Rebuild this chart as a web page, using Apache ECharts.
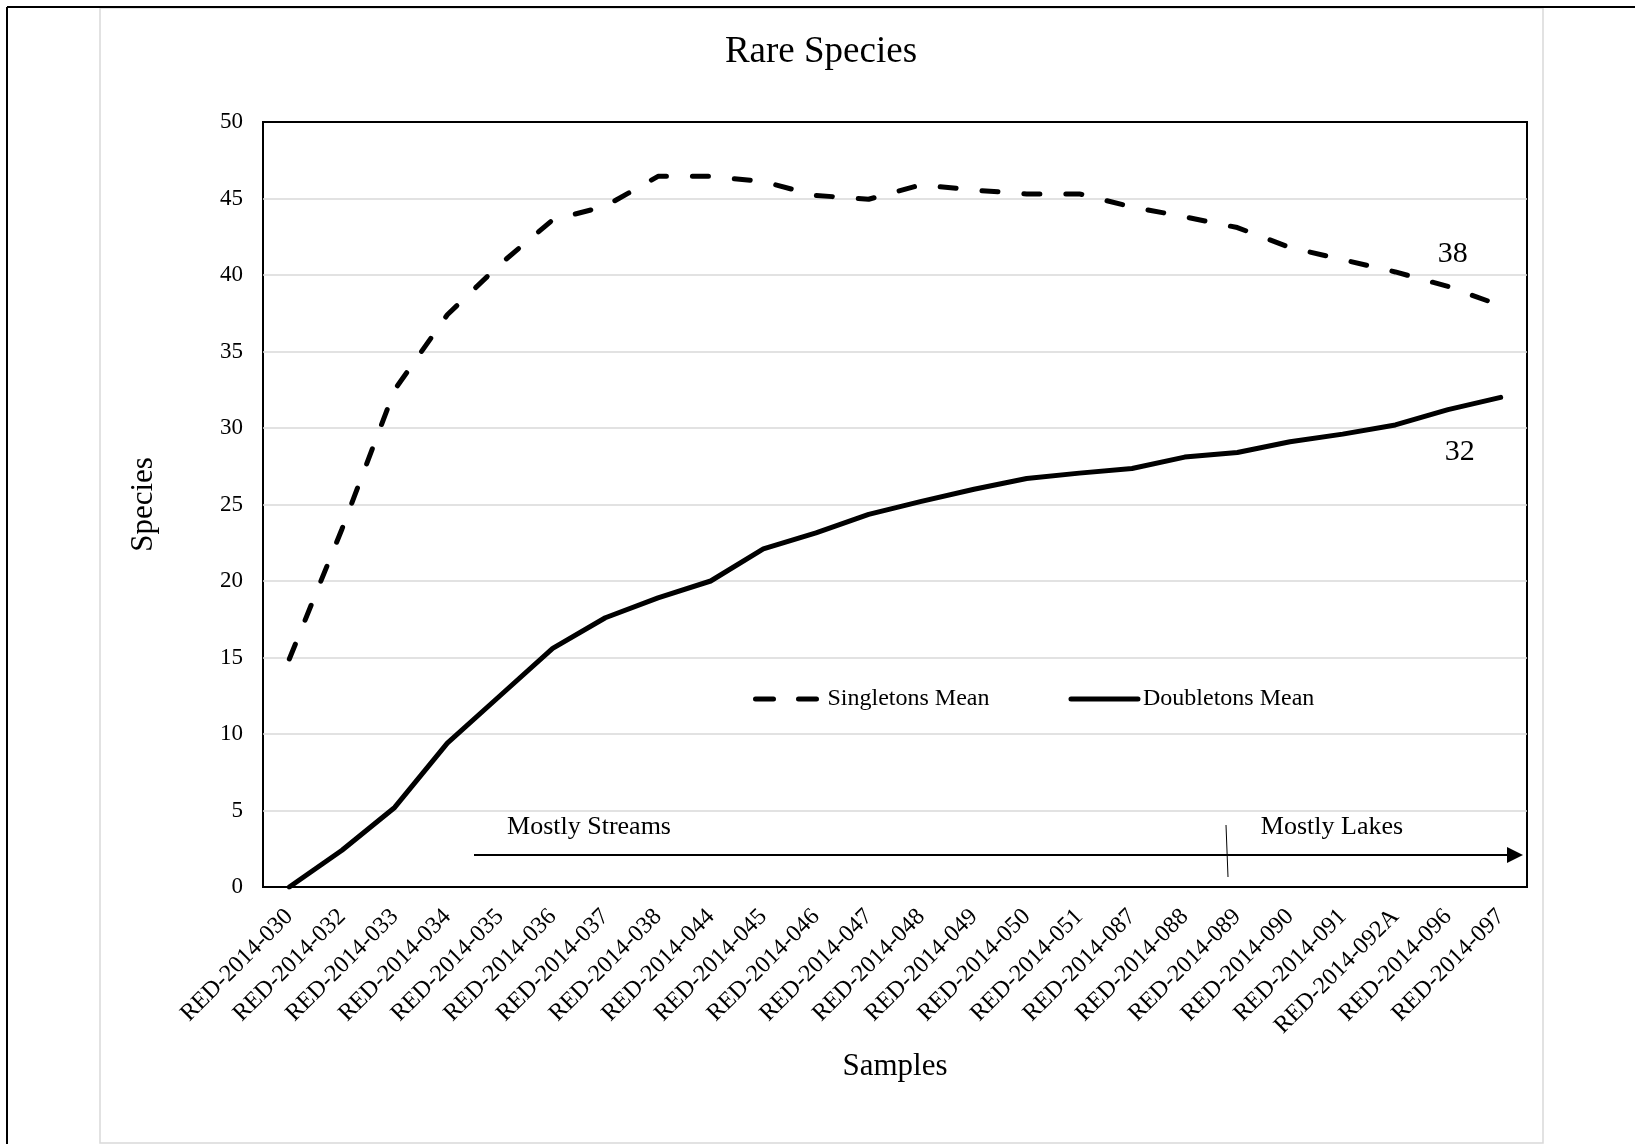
<!DOCTYPE html>
<html>
<head>
<meta charset="utf-8">
<script src="https://cdn.jsdelivr.net/npm/echarts@6/dist/echarts.min.js"></script>
<style>
html,body{margin:0;padding:0;background:#fff;}
#chart{width:1635px;height:1144px;}
</style>
</head>
<body>
<div id="chart"></div>
<script>
const categories = ['RED-2014-030','RED-2014-032','RED-2014-033','RED-2014-034','RED-2014-035','RED-2014-036','RED-2014-037','RED-2014-038','RED-2014-044','RED-2014-045','RED-2014-046','RED-2014-047','RED-2014-048','RED-2014-049','RED-2014-050','RED-2014-051','RED-2014-087','RED-2014-088','RED-2014-089','RED-2014-090','RED-2014-091','RED-2014-092A','RED-2014-096','RED-2014-097'];
const singletonsMean = [14.9, 23.4, 32.5, 37.4, 40.7, 43.6, 44.5, 46.45, 46.45, 46.1, 45.2, 44.95, 45.9, 45.55, 45.3, 45.3, 44.45, 43.8, 43.1, 41.8, 41.0, 40.2, 39.25, 38.0];
const doubletonsMean = [0, 2.4, 5.2, 9.4, 12.5, 15.6, 17.6, 18.9, 20.0, 22.1, 23.15, 24.35, 25.2, 26.0, 26.7, 27.05, 27.35, 28.1, 28.4, 29.1, 29.6, 30.2, 31.2, 32.0];
const yMin = 0, yMax = 50, yStep = 5;
const FONT = '"Liberation Serif", "Times New Roman", serif';

const chart = echarts.init(document.getElementById('chart'), null, {renderer:'canvas'});

function withEndLabel(arr, offset) {
  const last = arr.length - 1;
  return arr.map((v, i) => i === last ? {
    value: v,
    label: {show: true, position: 'inside', offset: offset, formatter: String(Math.round(v)),
            fontFamily: FONT, fontSize: 30, color: '#000'}
  } : v);
}

const option = {
  animation: false,
  backgroundColor: '#fff',
  textStyle: {fontFamily: FONT, color: '#000'},
  title: {
    text: 'Rare Species', left: 816, top: 29, textAlign: 'center',
    textStyle: {fontFamily: FONT, fontSize: 37, fontWeight: 'normal', color: '#000'}
  },
  grid: {left: 263, top: 122, right: 108, bottom: 257, show: true, borderColor: '#000', borderWidth: 2, containLabel: false},
  legend: {
    left: 748, top: 682, itemWidth: 67, itemHeight: 16, itemGap: 79,
    textStyle: {fontFamily: FONT, fontSize: 24, color: '#000'},
    itemStyle: {opacity: 0, borderWidth: 0},
    data: [
      {name: 'Singletons Mean', itemStyle: {opacity: 0, borderWidth: 0}, lineStyle: {type: [18, 25], width: 5, cap: 'round', color: '#000'}},
      {name: 'Doubletons Mean', itemStyle: {opacity: 0, borderWidth: 0}, lineStyle: {width: 5, cap: 'round', color: '#000'}}
    ]
  },
  xAxis: {
    type: 'category', data: categories, boundaryGap: true,
    name: 'Samples', nameLocation: 'middle', nameGap: 164,
    nameTextStyle: {fontFamily: FONT, fontSize: 31, color: '#000'},
    axisLine: {show: false}, axisTick: {show: false},
    axisLabel: {interval: 0, rotate: 45, margin: 26, fontFamily: FONT, fontSize: 24, color: '#000'}
  },
  yAxis: {
    type: 'value', min: yMin, max: yMax, interval: yStep,
    name: 'Species', nameLocation: 'middle', nameGap: 104,
    nameTextStyle: {fontFamily: FONT, fontSize: 31, color: '#000'},
    axisLine: {show: false}, axisTick: {show: false},
    axisLabel: {margin: 20, fontFamily: FONT, fontSize: 23, color: '#000'},
    splitLine: {showMinLine: false, showMaxLine: false, lineStyle: {color: '#d9d9d9', width: 1.5}}
  },
  series: [
    {
      name: 'Singletons Mean', type: 'line', symbol: 'circle', symbolSize: 0, showSymbol: true,
      data: withEndLabel(singletonsMean, [-48, -51]),
      lineStyle: {color: '#000', width: 5, type: [16, 26], cap: 'round', join: 'round'},
      itemStyle: {color: '#000'}
    },
    {
      name: 'Doubletons Mean', type: 'line', symbol: 'circle', symbolSize: 0, showSymbol: true,
      data: withEndLabel(doubletonsMean, [-41, 55]),
      lineStyle: {color: '#000', width: 5, type: 'solid', cap: 'round', join: 'round'},
      itemStyle: {color: '#000'}
    }
  ],
  graphic: [
    {type: 'line', shape: {x1: 7, y1: 7, x2: 1635, y2: 7}, style: {stroke: '#000', lineWidth: 2}, z: 100},
    {type: 'line', shape: {x1: 7, y1: 7, x2: 7, y2: 1144}, style: {stroke: '#000', lineWidth: 2}, z: 100},
    {type: 'rect', shape: {x: 100, y: 8, width: 1443, height: 1135}, style: {fill: 'none', stroke: '#d9d9d9', lineWidth: 1.5}, z: 99},
    {type: 'line', shape: {x1: 474, y1: 855, x2: 1510, y2: 855}, style: {stroke: '#000', lineWidth: 2}, z: 50},
    {type: 'polygon', shape: {points: [[1507, 847], [1523, 855], [1507, 863]]}, style: {fill: '#000'}, z: 50},
    {type: 'line', shape: {x1: 1226, y1: 825, x2: 1228, y2: 877}, style: {stroke: '#000', lineWidth: 1}, z: 50},
    {type: 'text', x: 589, y: 827, style: {text: 'Mostly Streams', font: '26px "Liberation Serif"', fill: '#000', textAlign: 'center', textVerticalAlign: 'middle'}, z: 50},
    {type: 'text', x: 1332, y: 827, style: {text: 'Mostly Lakes', font: '26px "Liberation Serif"', fill: '#000', textAlign: 'center', textVerticalAlign: 'middle'}, z: 50}
  ]
};
chart.setOption(option);
</script>
</body>
</html>
